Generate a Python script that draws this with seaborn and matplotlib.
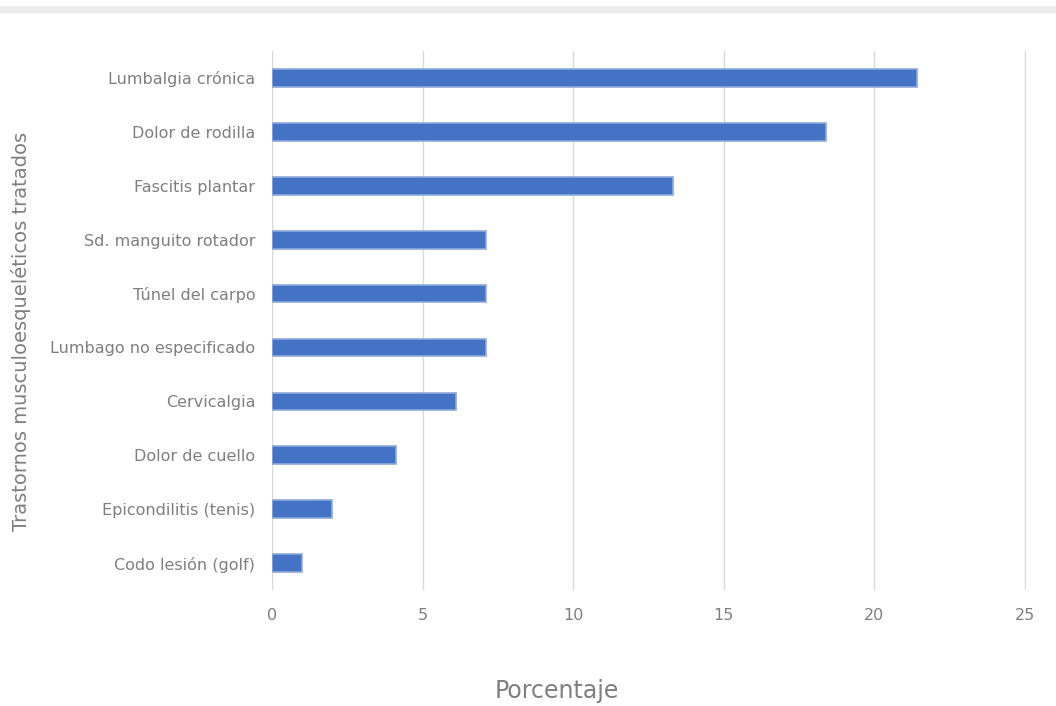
import pandas as pd
import matplotlib
matplotlib.use("Agg")
import matplotlib.pyplot as plt
import seaborn as sns

# Datos
condiciones = [
    "Lumbalgia crónica",
    "Dolor de rodilla",
    "Fascitis plantar",
    "Sd. manguito rotador",
    "Túnel del carpo",
    "Lumbago no especificado",
    "Cervicalgia",
    "Dolor de cuello",
    "Epicondilitis (tenis)",
    "Codo lesión (golf)",
]
porcentaje = [21.4, 18.4, 13.3, 7.1, 7.1, 7.1, 6.1, 4.1, 2.0, 1.0]
ticks_x = [0, 5, 10, 15, 20, 25]

df = pd.DataFrame({"Condicion": condiciones, "Porcentaje": porcentaje})

sns.set_theme(style="white")
plt.rcParams["font.family"] = ["DejaVu Sans"]
gris = "#7f7f7f"

fig = plt.figure(figsize=(10.56, 7.06), dpi=100)
ax = fig.add_axes([0.2576, 0.164, 0.714, 0.764])

sns.barplot(data=df, x="Porcentaje", y="Condicion", color="#4472C4",
            width=0.33, edgecolor="#8eaadb", linewidth=1.2, saturation=1, ax=ax)

ax.set_xlim(0, 25.03)
ax.set_xticks(ticks_x)
ax.set_xticklabels([str(t) for t in ticks_x])
ax.grid(axis="x", color="#d9d9d9", linewidth=1)
ax.set_axisbelow(True)
for s in ax.spines.values():
    s.set_visible(False)
ax.tick_params(axis="both", length=0, colors=gris, labelsize=11.5)
ax.tick_params(axis="x", pad=13)
ax.tick_params(axis="y", pad=12)
ax.set_xlabel("")
ax.set_ylabel("Trastornos musculoesqueléticos tratados", color=gris, fontsize=14)
ax.yaxis.set_label_coords(-0.32, 0.48)

fig.text(0.527, 0.004, "Porcentaje", color=gris, fontsize=17, ha="center", va="bottom")

# franja gris superior
fig.patches.append(plt.Rectangle((0, 0.983), 1, 0.008, transform=fig.transFigure,
                                 color="#ededed", zorder=0))

fig.savefig("out.png", dpi=100)
